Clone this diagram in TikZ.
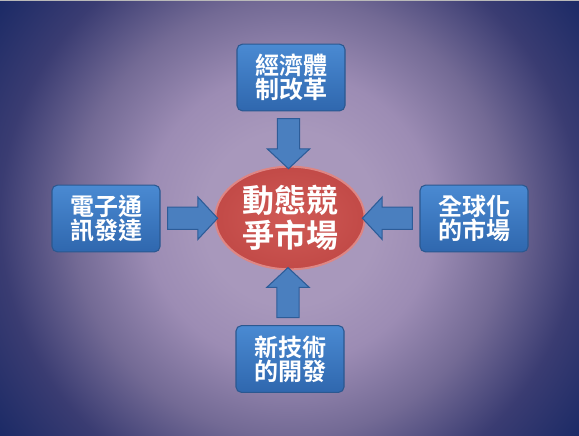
\documentclass[tikz,border=0pt]{standalone}
\usepackage{fontspec}
\newfontfamily\cjk{Noto Sans CJK TC}[BoldFont={Noto Sans CJK TC Bold}]
\usetikzlibrary{positioning, calc, shapes.geometric, shapes.arrows}

\definecolor{bgmid}{HTML}{A898BC}
\definecolor{bglight}{HTML}{9C8CB4}
\definecolor{bgtop}{HTML}{736A95}
\definecolor{bgside}{HTML}{3A3C72}
\definecolor{bgcorner}{HTML}{1B2A66}
\definecolor{boxtop}{HTML}{4A8AD2}
\definecolor{boxbot}{HTML}{2F67AE}
\definecolor{boxline}{HTML}{2B5890}
\definecolor{arrfill}{HTML}{4A7FBF}
\definecolor{arrline}{HTML}{2D5C98}
\definecolor{hubin}{HTML}{D05A56}
\definecolor{hubout}{HTML}{C24A47}
\definecolor{hubline}{HTML}{DE8684}

\pgfdeclareradialshading{bgshade}{\pgfpoint{0bp}{0bp}}{color(0bp)=(bgmid); color(6bp)=(bgmid); color(10bp)=(bglight); color(15bp)=(bgtop); color(20bp)=(bgside); color(25bp)=(bgcorner); color(50bp)=(bgcorner)}

\tikzset{
  box/.style={draw=boxline, line width=0.8pt, rounded corners=4pt, top color=boxtop, bottom color=boxbot,
    minimum width=81pt, minimum height=50pt, inner sep=0pt, align=center, text=white,
    font=\cjk\bfseries\fontsize{18}{18}\selectfont},
  hub/.style={ellipse, draw=hubline, line width=1.5pt, inner color=hubin, outer color=hubout,
    minimum width=112pt, minimum height=77pt, inner sep=0pt, align=center, text=white,
    font=\cjk\bfseries\fontsize{24}{26}\selectfont},
  push/.style={single arrow, draw=arrline, fill=arrfill, line width=0.8pt, inner xsep=0pt,
    inner ysep=7.9pt, minimum height=37.5pt, single arrow head extend=7.6pt,
    single arrow tip angle=94}
}

\begin{document}
\begin{tikzpicture}[x=0.75pt, y=-0.75pt]
			\useasboundingbox (0,0) rectangle (579,436);
			\begin{scope}
				\clip (0,0) rectangle (579,436);
				\shade[shading=bgshade] (-73,-145) rectangle (653,581);
			\end{scope}
			\draw[gray!55, line width=1pt] (0,0.5) -- (579,0.5);
			% center and four drivers
			\node[hub] (market) at (290,218) {動態競\\爭市場};
			\node[box] (econ) at (291,77.5) {經濟體\\制改革};
			\node[box] (tele) at (106,218.5) {電子通\\訊發達};
			\node[box] (glob) at (474,218.5) {全球化\\的市場};
			\node[box] (tech) at (290,359) {新技術\\的開發};
			% block arrows
			\node[push, rotate=-90] (econarr) at ($(econ.south)!0.5!(market.north)+(-2,0)$) {};
			\node[push] (telearr) at ($(tele.east)!0.5!(market.west)$) {};
			\node[push, rotate=180] (globarr) at ($(glob.west)!0.5!(market.east)$) {};
			\node[push, rotate=90] (techarr) at ($(tech.north)!0.5!(market.south)+(-2,0)$) {};
		\end{tikzpicture}
\end{document}
